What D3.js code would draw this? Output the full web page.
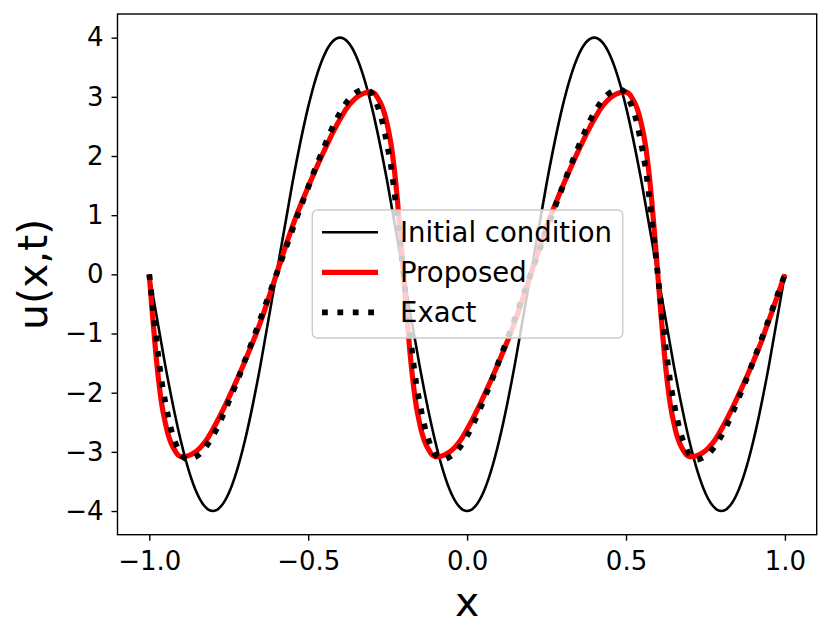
<!DOCTYPE html>
<html>
  <head>
    <meta charset="utf-8">
    <script src="https://cdn.jsdelivr.net/npm/d3@7"></script>
    <style>
      body {
        margin: 0;
        background: white;
      }
      svg text {
        font-family: "DejaVu Sans", sans-serif;
        fill: black;
      }
      .axis text {
        font-size: 26px;
      }
      .axis line {
        stroke: black;
        stroke-width: 1.4px;
      }
      .axis-label {
        font-size: 41px;
      }
      .legend-label {
        font-size: 27.5px;
      }
      .frame {
        fill: none;
        stroke: black;
        stroke-width: 1.4px;
      }
    </style>
  </head>
  <body>
    <div id="chart"></div>
    <script>

// ---------- DATA ----------
var xInit = [-1.00, -0.95, -0.90, -0.85, -0.80, -0.75, -0.70, -0.65, -0.60, -0.55,
             -0.50, -0.45, -0.40, -0.35, -0.30, -0.25, -0.20, -0.15, -0.10, -0.05,
              0.00,  0.05,  0.10,  0.15,  0.20,  0.25,  0.30,  0.35,  0.40,  0.45,
              0.50,  0.55,  0.60,  0.65,  0.70,  0.75,  0.80,  0.85,  0.90,  0.95, 1.00];
var uInit = [0.00, -1.53, -2.83, -3.70, -4.00, -3.70, -2.83, -1.53, 0.00, 1.53,
             2.83, 3.70, 4.00, 3.70, 2.83, 1.53, 0.00, -1.53, -2.83, -3.70,
             -4.00, -3.70, -2.83, -1.53, 0.00, 1.53, 2.83, 3.70, 4.00, 3.70,
             2.83, 1.53, 0.00, -1.53, -2.83, -3.70, -4.00, -3.70, -2.83, -1.53, 0.00];

var xSol = [-1.00, -0.99, -0.98, -0.97, -0.96, -0.95, -0.94, -0.93, -0.92, -0.91, -0.90,
            -0.88, -0.86, -0.84, -0.82, -0.80, -0.78, -0.76, -0.74, -0.72, -0.70, -0.68, -0.66, -0.64, -0.62, -0.60,
            -0.58, -0.56, -0.54, -0.52, -0.50, -0.48, -0.46, -0.44, -0.42, -0.40, -0.38, -0.36, -0.34, -0.32, -0.30,
            -0.29, -0.28, -0.27, -0.26, -0.25, -0.24, -0.23, -0.22, -0.21,
            -0.20, -0.19, -0.18, -0.17, -0.16, -0.15, -0.14, -0.13, -0.12, -0.11, -0.10,
            -0.08, -0.06, -0.04, -0.02, 0.00, 0.02, 0.04, 0.06, 0.08, 0.10, 0.12, 0.14, 0.16, 0.18, 0.20,
            0.22, 0.24, 0.26, 0.28, 0.30, 0.32, 0.34, 0.36, 0.38, 0.40, 0.42, 0.44, 0.46, 0.48, 0.50,
            0.51, 0.52, 0.53, 0.54, 0.55, 0.56, 0.57, 0.58, 0.59,
            0.60, 0.61, 0.62, 0.63, 0.64, 0.65, 0.66, 0.67, 0.68, 0.69, 0.70,
            0.72, 0.74, 0.76, 0.78, 0.80, 0.82, 0.84, 0.86, 0.88, 0.90, 0.92, 0.94, 0.96, 0.98, 1.00];

var uProposed = [0.00, -0.68, -1.30, -1.82, -2.22, -2.50, -2.72, -2.87, -2.97, -3.05, -3.08,
                 -3.07, -3.02, -2.93, -2.80, -2.62, -2.42, -2.20, -1.97, -1.73, -1.48, -1.22, -0.95, -0.65, -0.33, 0.00,
                 0.33, 0.65, 0.95, 1.22, 1.48, 1.73, 1.97, 2.20, 2.42, 2.62, 2.80, 2.93, 3.02, 3.07, 3.08,
                 3.05, 2.97, 2.87, 2.72, 2.50, 2.22, 1.82, 1.30, 0.68,
                 0.00, -0.68, -1.30, -1.82, -2.22, -2.50, -2.72, -2.87, -2.97, -3.05, -3.08,
                 -3.07, -3.02, -2.93, -2.80, -2.62, -2.42, -2.20, -1.97, -1.73, -1.48, -1.22, -0.95, -0.65, -0.33, 0.00,
                 0.33, 0.65, 0.95, 1.22, 1.48, 1.73, 1.97, 2.20, 2.42, 2.62, 2.80, 2.93, 3.02, 3.07, 3.08,
                 3.05, 2.97, 2.87, 2.72, 2.50, 2.22, 1.82, 1.30, 0.68,
                 0.00, -0.68, -1.30, -1.82, -2.22, -2.50, -2.72, -2.87, -2.97, -3.05, -3.08,
                 -3.07, -3.02, -2.93, -2.80, -2.62, -2.42, -2.20, -1.97, -1.73, -1.48, -1.22, -0.92, -0.62, -0.31, 0.00];

var uExact = [0.00, -0.50, -1.00, -1.45, -1.85, -2.15, -2.42, -2.65, -2.82, -2.95, -3.05,
              -3.13, -3.10, -3.03, -2.90, -2.73, -2.52, -2.28, -2.02, -1.76, -1.47, -1.19, -0.90, -0.60, -0.30, 0.00,
              0.30, 0.60, 0.90, 1.19, 1.47, 1.76, 2.02, 2.28, 2.52, 2.73, 2.90, 3.03, 3.10, 3.13, 3.06,
              2.95, 2.82, 2.65, 2.42, 2.15, 1.85, 1.45, 1.00, 0.50,
              0.00, -0.50, -1.00, -1.45, -1.85, -2.15, -2.42, -2.65, -2.82, -2.95, -3.05,
              -3.13, -3.10, -3.03, -2.90, -2.73, -2.52, -2.28, -2.02, -1.76, -1.47, -1.19, -0.90, -0.60, -0.30, 0.00,
              0.30, 0.60, 0.90, 1.19, 1.47, 1.76, 2.02, 2.28, 2.52, 2.73, 2.90, 3.03, 3.10, 3.13, 3.06,
              2.95, 2.82, 2.65, 2.42, 2.15, 1.85, 1.45, 1.00, 0.50,
              0.00, -0.50, -1.00, -1.45, -1.85, -2.15, -2.42, -2.65, -2.82, -2.95, -3.05,
              -3.13, -3.10, -3.03, -2.90, -2.73, -2.52, -2.28, -2.02, -1.76, -1.47, -1.19, -0.90, -0.60, -0.30, 0.00];

var xTicks = [-1.0, -0.5, 0.0, 0.5, 1.0];
var xTickLabels = ["\u22121.0", "\u22120.5", "0.0", "0.5", "1.0"];
var yTicks = [-4, -3, -2, -1, 0, 1, 2, 3, 4];
var yTickLabels = ["\u22124", "\u22123", "\u22122", "\u22121", "0", "1", "2", "3", "4"];
var legendLabels = ["Initial condition", "Proposed", "Exact"];


function drawChart() {

  var width = 831;
  var height = 639;
  var left = 117.5, right = 816.7, top = 14, bottom = 534.7;

  var svg = d3.select("#chart")
    .append("svg")
      .attr("width", width)
      .attr("height", height);

  var x = d3.scaleLinear().domain([-1.1, 1.1]).range([left, right]);
  var y = d3.scaleLinear().domain([-4.4, 4.4]).range([bottom, top]);

  // smooth spline for the sampled initial sine, catmull-rom for the solutions
  var initLine = d3.line()
    .x(function(d) { return x(d[0]); })
    .y(function(d) { return y(d[1]); })
    .curve(d3.curveNatural);

  var line = d3.line()
    .x(function(d) { return x(d[0]); })
    .y(function(d) { return y(d[1]); })
    .curve(d3.curveCatmullRom.alpha(0.5));

  var initData = xInit.map(function(v, i) { return [v, uInit[i]]; });
  var propData = xSol.map(function(v, i) { return [v, uProposed[i]]; });
  var exactData = xSol.map(function(v, i) { return [v, uExact[i]]; });

  svg.append("path")
    .attr("d", initLine(initData))
    .style("fill", "none")
    .style("stroke", "black")
    .style("stroke-width", 2.6);

  svg.append("path")
    .attr("d", line(propData))
    .style("fill", "none")
    .style("stroke", "red")
    .style("stroke-width", 5.2);

  svg.append("path")
    .attr("d", line(exactData))
    .style("fill", "none")
    .style("stroke", "black")
    .style("stroke-width", 5.8)
    .style("stroke-dasharray", "5.8,9.6");

  // ---------- AXES ----------
  var xAxis = d3.axisBottom(x)
    .tickValues(xTicks)
    .tickFormat(function(d, i) { return xTickLabels[i]; })
    .tickSizeInner(6)
    .tickSizeOuter(0)
    .tickPadding(11);

  var yAxis = d3.axisLeft(y)
    .tickValues(yTicks)
    .tickFormat(function(d, i) { return yTickLabels[i]; })
    .tickSizeInner(6)
    .tickSizeOuter(0)
    .tickPadding(8);

  svg.append("g")
    .attr("class", "axis")
    .attr("transform", "translate(0," + bottom + ")")
    .call(xAxis)
    .call(function(g) { g.select(".domain").remove(); });

  svg.append("g")
    .attr("class", "axis")
    .attr("transform", "translate(" + left + ",0)")
    .call(yAxis)
    .call(function(g) { g.select(".domain").remove(); });

  svg.selectAll(".axis text")
    .attr("font-family", null)
    .attr("font-size", null)
    .style("fill", "black");

  svg.append("rect")
    .attr("class", "frame")
    .attr("x", left)
    .attr("y", top)
    .attr("width", right - left)
    .attr("height", bottom - top);

  svg.append("text")
    .attr("class", "axis-label")
    .attr("x", (left + right) / 2)
    .attr("y", 616)
    .attr("text-anchor", "middle")
    .text("x");

  svg.append("text")
    .attr("class", "axis-label")
    .attr("transform", "translate(46.5," + (top + bottom) / 2 + ") rotate(-90)")
    .attr("text-anchor", "middle")
    .text("u(x,t)");

  // ---------- LEGEND ----------
  var legend = svg.append("g");

  legend.append("rect")
    .attr("x", 312.3)
    .attr("y", 210)
    .attr("width", 310.4)
    .attr("height", 128)
    .attr("rx", 5)
    .style("fill", "white")
    .style("fill-opacity", 0.8)
    .style("stroke", "#cccccc")
    .style("stroke-width", 1.4);

  var legendStyles = [
    {stroke: "black", width: 2.6, dash: null},
    {stroke: "red", width: 5.2, dash: null},
    {stroke: "black", width: 5.8, dash: "5.8,9.6"}
  ];

  legendLabels.forEach(function(label, i) {
    var ly = 232.3 + i * 40;
    legend.append("line")
      .attr("x1", 322)
      .attr("x2", 378)
      .attr("y1", ly)
      .attr("y2", ly)
      .style("stroke", legendStyles[i].stroke)
      .style("stroke-width", legendStyles[i].width)
      .style("stroke-dasharray", legendStyles[i].dash);
    legend.append("text")
      .attr("class", "legend-label")
      .attr("x", 400)
      .attr("y", ly + 10)
      .text(label);
  });
}

drawChart();
    </script>
  </body>
</html>
